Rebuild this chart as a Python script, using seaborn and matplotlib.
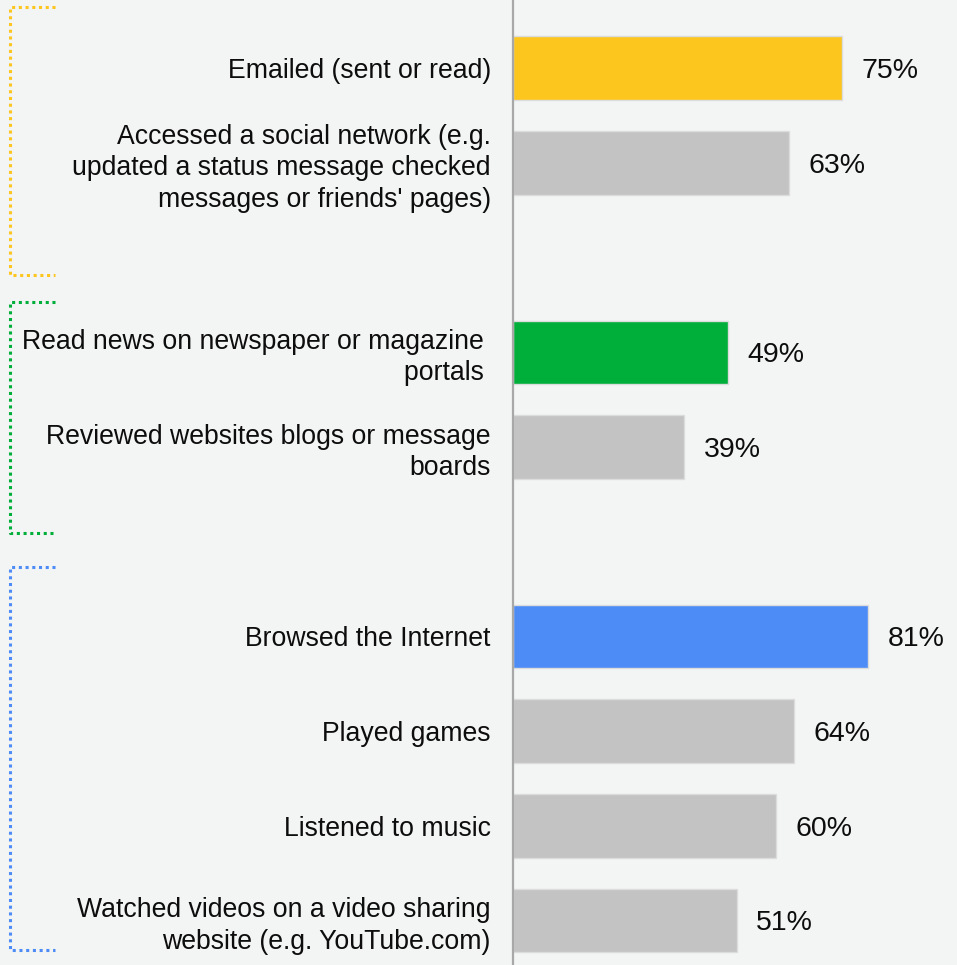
import matplotlib
matplotlib.use("Agg")
import matplotlib.pyplot as plt
import seaborn as sns
import pandas as pd

# Activities and share of respondents (%)
activities = [
    "Emailed (sent or read)",
    "Accessed a social network (e.g.\nupdated a status message checked\nmessages or friends' pages)",
    "Read news on newspaper or magazine \nportals ",
    "Reviewed websites blogs or message\nboards",
    "Browsed the Internet",
    "Played games",
    "Listened to music",
    "Watched videos on a video sharing\nwebsite (e.g. YouTube.com)",
]
shares = [75, 63, 49, 39, 81, 64, 60, 51]
bar_colors = ["#fcc61e", "#c3c3c3", "#00ae3a", "#c3c3c3",
              "#4d8cf6", "#c3c3c3", "#c3c3c3", "#c3c3c3"]

# row order including blank spacer rows between groups
order = [activities[0], activities[1], "",
         activities[2], activities[3], " ",
         activities[4], activities[5], activities[6], activities[7]]

# group brackets: (top, bottom) in row units, colour
brackets = [(-0.65, 2.18, "#fcc61e"),
            (2.47, 4.91, "#00ae3a"),
            (5.27, 9.31, "#4d8cf6")]

df = pd.DataFrame({"activity": activities, "share": shares})

sns.set_theme(style="white")
plt.rcParams["font.family"] = ["Liberation Sans", "DejaVu Sans"]

fig = plt.figure(figsize=(9.57, 9.65), dpi=100)
fig.patch.set_facecolor("#f3f4f4")
ax = fig.add_axes([513 / 957, 0, 444 / 957, 1])
ax.set_facecolor("#f3f4f4")

sns.barplot(data=df, x="share", y="activity", order=order, hue="activity",
            palette=dict(zip(activities, bar_colors)), legend=False,
            saturation=1, width=0.67, edgecolor="#dcdcdc", linewidth=1, ax=ax)

for c in ax.containers:
    txts = ax.bar_label(c, labels=[f"{v:.0f}%" for v in c.datavalues],
                        padding=14, fontsize=20.5, color="#0d0d0d")
    for t in txts:
        t.set_va("center_baseline")

ax.set_xlim(0, 101.2)
ax.set_ylim(9.47, -0.72)
ax.set_xlabel("")
ax.set_ylabel("")
ax.set_xticks([])
ax.tick_params(axis="y", length=0, pad=16, labelsize=19.2, labelcolor="#0d0d0d")
for lab in ax.get_yticklabels():
    lab.set_linespacing(1.26)
for s in ["top", "right", "bottom"]:
    ax.spines[s].set_visible(False)
ax.spines["left"].set_color("#a8a8a8")
ax.spines["left"].set_linewidth(1.6)

# dotted group brackets on the far left, in figure x / data y
tr = matplotlib.transforms.blended_transform_factory(fig.transFigure, ax.transData)
x0, x1 = 9.5 / 957, 55 / 957
for top, bot, col in brackets:
    line = matplotlib.lines.Line2D([x1, x0, x0, x1], [top, top, bot, bot],
                                   transform=tr, color=col, lw=2.2,
                                   linestyle=(0, (1, 1.2)), clip_on=False)
    fig.add_artist(line)

fig.savefig("out.png", dpi=100, facecolor=fig.get_facecolor())
